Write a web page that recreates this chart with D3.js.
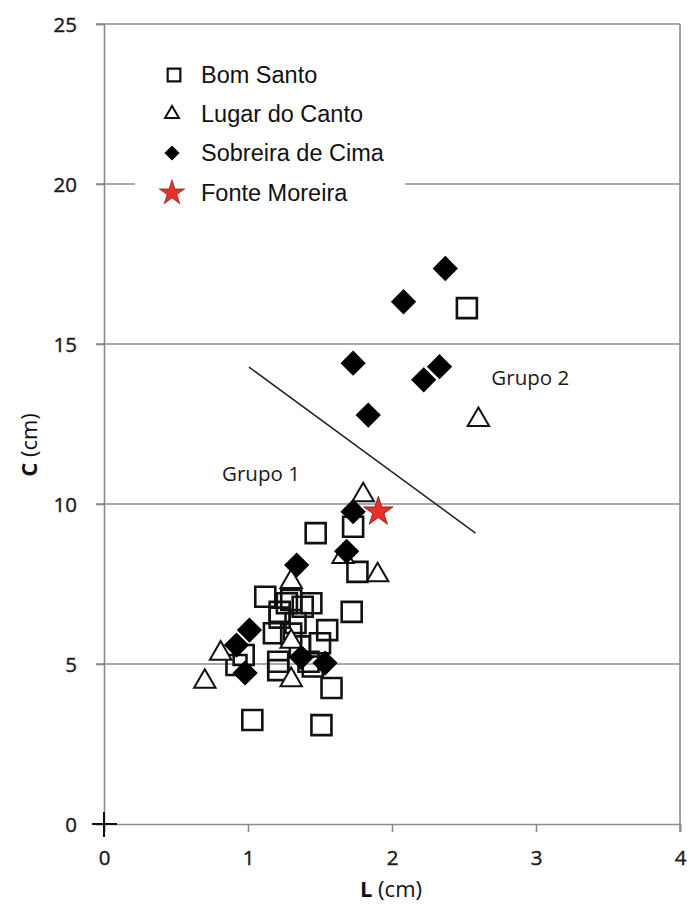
<!DOCTYPE html>
<html><head><meta charset="utf-8">
<script src="https://cdn.jsdelivr.net/npm/d3@7"></script>
<style>body{margin:0;background:#fff}svg{display:block}</style>
</head><body>
<script>
const bomSanto = [[2.52,16.12],[1.47,9.09],[1.73,9.29],[1.76,7.88],[1.12,7.10],[1.30,7.0],[1.22,6.63],[1.38,6.79],[1.44,6.90],[1.72,6.63],[1.18,5.96],[1.33,6.28],[1.55,6.06],[1.30,5.95],[1.22,6.45],[0.97,5.28],[0.92,4.97],[1.21,5.07],[1.21,4.81],[1.42,5.07],[1.45,4.92],[1.50,5.65],[1.58,4.25],[1.03,3.25],[1.51,3.09],[1.36,5.55],[1.27,6.9]];
const lugarDoCanto = [[2.60,12.63],[1.80,10.28],[1.90,7.78],[1.66,8.35],[1.30,7.57],[0.81,5.33],[0.70,4.45],[1.30,4.5],[1.30,5.70]];
const sobreiraDeCima = [[2.37,17.36],[2.08,16.32],[1.73,14.40],[2.33,14.29],[2.22,13.88],[1.835,12.78],[1.73,9.76],[1.685,8.52],[1.338,8.09],[1.01,6.06],[0.92,5.59],[0.98,4.72],[1.37,5.21],[1.535,5.03]];
const fonteMoreira = [[1.905,9.76]];
const divider = [[1.007,14.28],[2.58,9.09]];
const xTicks = [0,1,2,3,4];
const yTicks = [0,5,10,15,20,25];
const legendLabels = ["Bom Santo","Lugar do Canto","Sobreira de Cima","Fonte Moreira"];
const groupLabels = [{t:"Grupo 1",x:0.82,y:10.72},{t:"Grupo 2",x:2.69,y:13.72}];

const W=694,H=908;
const svg=d3.select("body").append("svg").attr("width",W).attr("height",H);
const x=d3.scaleLinear().domain([0,4]).range([104,680]);
const y=d3.scaleLinear().domain([0,25]).range([824,24]);
const grid="#8c8c8c";
const tickFont="'Open Sans', sans-serif";

svg.append("g").selectAll("line").data(yTicks.filter(d=>d>0)).join("line")
  .attr("x1",96).attr("x2",680).attr("y1",d=>y(d)).attr("y2",d=>y(d))
  .attr("stroke",grid).attr("stroke-width",1.6);
svg.append("line").attr("x1",680).attr("x2",680).attr("y1",y(25)).attr("y2",y(0)+8).attr("stroke",grid).attr("stroke-width",1.6);
const xa=d3.axisBottom(x).tickValues(xTicks).tickSize(8).tickFormat(d3.format("d"));
const gx=svg.append("g").attr("transform","translate(0,824)").call(xa);
gx.select(".domain").attr("stroke",grid).attr("stroke-width",1.6);
gx.selectAll(".tick line").attr("stroke",grid).attr("stroke-width",1.6);
gx.selectAll(".tick text").attr("font-family",tickFont).attr("font-size",20.5).attr("fill","#1a1a1a").attr("stroke","#1a1a1a").attr("stroke-width",0.4).attr("dy",0).attr("y",41);
const ya=d3.axisLeft(y).tickValues(yTicks).tickSize(8).tickPadding(19);
const gy=svg.append("g").attr("transform","translate(104,0)").call(ya);
gy.select(".domain").attr("stroke",grid).attr("stroke-width",1.6);
gy.selectAll(".tick line").attr("stroke",grid).attr("stroke-width",1.6);
gy.selectAll(".tick text").attr("font-family",tickFont).attr("font-size",20.5).attr("fill","#1a1a1a").attr("stroke","#1a1a1a").attr("stroke-width",0.4).attr("dy","0.36em");
svg.append("line").attr("x1",92).attr("x2",117).attr("y1",y(0)).attr("y2",y(0)).attr("stroke","#111").attr("stroke-width",2);
svg.append("line").attr("x1",x(0)).attr("x2",x(0)).attr("y1",812).attr("y2",837).attr("stroke","#111").attr("stroke-width",2);

const xt=svg.append("text").attr("x",391).attr("y",897).attr("text-anchor","middle").attr("font-family",tickFont).attr("font-size",22).attr("fill","#111");
xt.append("tspan").attr("font-weight","bold").text("L");
xt.append("tspan").text(" (cm)");
const yt=svg.append("text").attr("transform","translate(37,445) rotate(-90)").attr("text-anchor","middle").attr("font-family",tickFont).attr("font-size",22).attr("fill","#111");
yt.append("tspan").attr("font-weight","bold").text("C");
yt.append("tspan").text(" (cm)");

svg.append("line").attr("x1",x(divider[0][0])).attr("y1",y(divider[0][1])).attr("x2",x(divider[1][0])).attr("y2",y(divider[1][1])).attr("stroke","#222").attr("stroke-width",1.5);

svg.append("g").selectAll("text").data(groupLabels).join("text")
  .attr("x",d=>x(d.x)).attr("y",d=>y(d.y)).attr("font-family",tickFont).attr("font-size",20.5).attr("fill","#1a1a1a").text(d=>d.t);

const sq=d3.symbol(d3.symbolSquare,400)();
const tri=d3.symbol(d3.symbolTriangle,200)();
const dia=d3.symbol(d3.symbolSquare,320)();
const star=d3.symbol(d3.symbolStar,270)();

svg.append("g").selectAll("path").data(bomSanto).join("path")
  .attr("d",sq).attr("transform",d=>`translate(${x(d[0])},${y(d[1])})`)
  .attr("fill","none").attr("stroke","#111").attr("stroke-width",2.6);
svg.append("g").selectAll("path").data(lugarDoCanto).join("path")
  .attr("d",tri).attr("transform",d=>`translate(${x(d[0])},${y(d[1])})`)
  .attr("fill","#fff").attr("stroke","#111").attr("stroke-width",2);
svg.append("g").selectAll("path").data(sobreiraDeCima).join("path")
  .attr("d",dia).attr("transform",d=>`translate(${x(d[0])},${y(d[1])}) rotate(45)`)
  .attr("fill","#000");
svg.append("g").selectAll("path").data(fonteMoreira).join("path")
  .attr("d",star).attr("transform",d=>`translate(${x(d[0])},${y(d[1])})`)
  .attr("fill","#e8302a").attr("stroke","#6a1a14").attr("stroke-width",0.8);

const lg=svg.append("g");
lg.append("rect").attr("x",135).attr("y",48).attr("width",270).attr("height",170).attr("fill","#fff");
const ly=[75,114,153,193];
const lx=174;
lg.append("path").attr("d",d3.symbol(d3.symbolSquare,160)()).attr("transform",`translate(${lx},${ly[0]})`).attr("fill","none").attr("stroke","#111").attr("stroke-width",2.2);
lg.append("path").attr("d",d3.symbol(d3.symbolTriangle,85)()).attr("transform",`translate(${lx-2},${ly[1]})`).attr("fill","#fff").attr("stroke","#111").attr("stroke-width",2);
lg.append("path").attr("d",d3.symbol(d3.symbolSquare,115)()).attr("transform",`translate(${lx-2},${ly[2]}) rotate(45)`).attr("fill","#000");
lg.append("path").attr("d",d3.symbol(d3.symbolStar,200)()).attr("transform",`translate(${lx-2},${ly[3]})`).attr("fill","#e8302a").attr("stroke","#6a1a14").attr("stroke-width",0.6);
lg.selectAll("text").data(legendLabels).join("text")
  .attr("x",201).attr("y",(d,i)=>ly[i]).attr("dy","0.36em")
  .attr("font-family","'Liberation Sans', Arial, sans-serif").attr("font-size",23.5).attr("fill","#111")
  .text(d=>d);
</script>
</body></html>
